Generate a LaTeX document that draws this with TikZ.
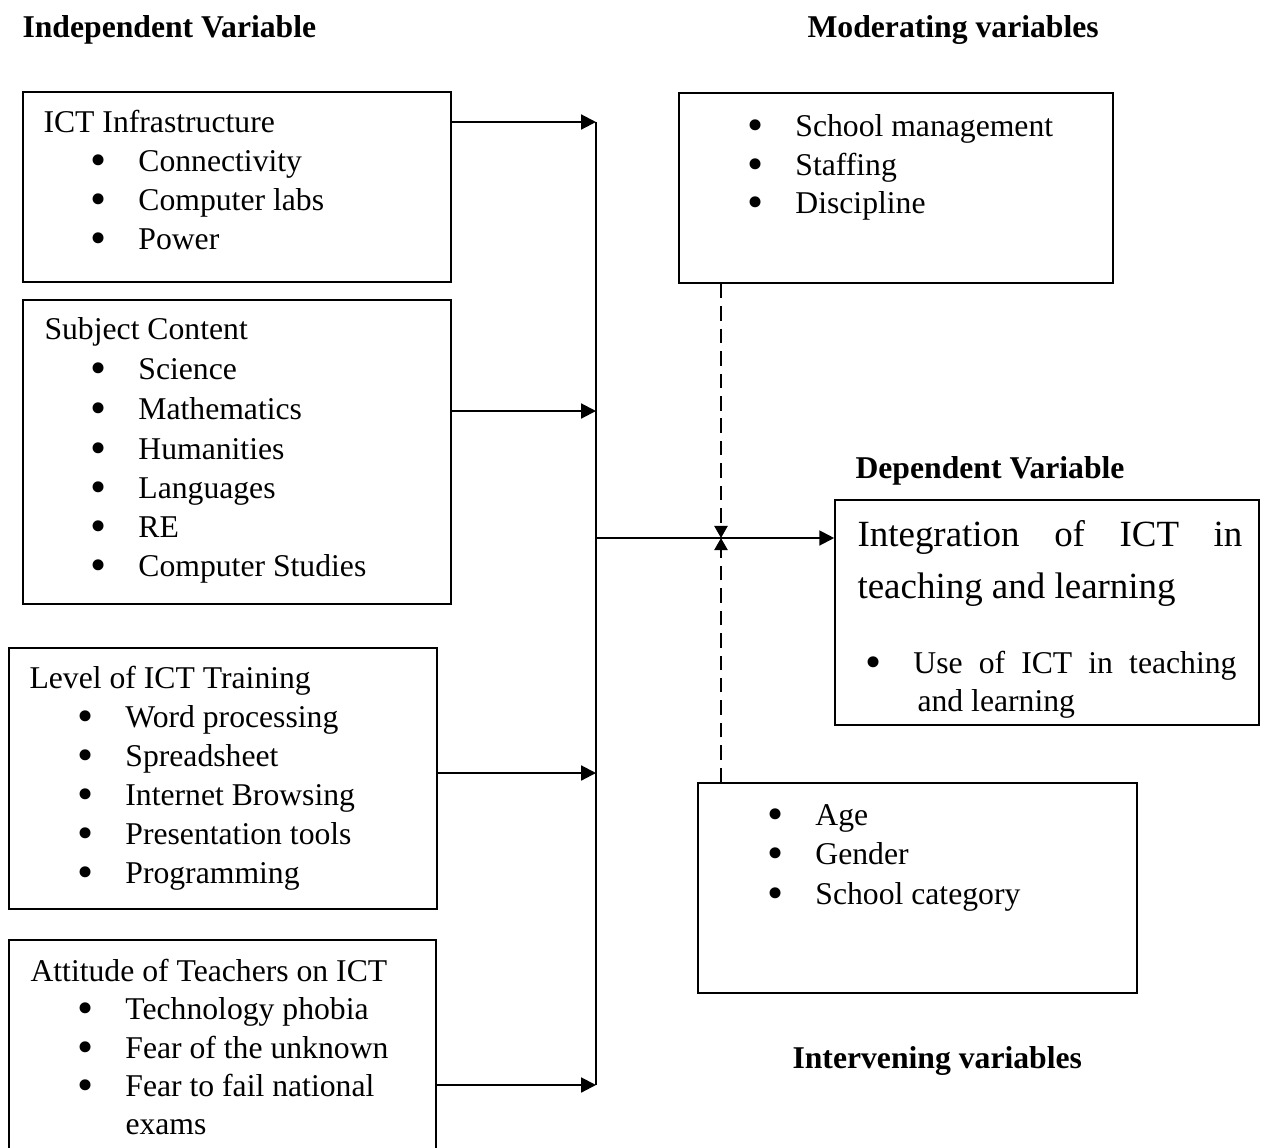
\documentclass[tikz,border=0pt,12pt]{standalone}
\usepackage{fontspec}
\setmainfont{Liberation Serif}
\usepackage{graphicx}
\usepackage{tikz}
\usetikzlibrary{arrows.meta}
\usetikzlibrary{fit}
\newcommand{\itembul}{\makebox[17pt][l]{\hspace{-1.1pt}\smash{\raisebox{-1.4pt}{\scalebox{1.45}{\textbullet}}}}}

\begin{document}
\begin{tikzpicture}[x=0.3788pt, y=-0.3788pt]
        \tikzset{box/.style = {draw, line width=0.6pt, inner sep=0pt}}
        \tikzset{head/.style = {anchor=base west, inner sep=0pt, yshift=-0.75pt, font=\bfseries}}
        \tikzset{entry/.style = {anchor=base west, inner sep=0pt, yshift=-0.75pt}}
        \tikzset{edge/.style = {->, > = {Triangle[length=5.6pt, width=5.6pt]}, line width=0.8pt}}
        \tikzset{dashedge/.style = {edge, > = {Triangle[length=4.6pt, width=5pt]}, dash pattern=on 5.5pt off 3pt}}
        \useasboundingbox (0,0) rectangle (1267,1148);

        % headings
        \node[head] (indep) at (22,36) {Independent Variable};
        \node[head] (modhead) at (807,36) {Moderating variables};
        \node[head] (dephead) at (855,477) {Dependent Variable};
        \node[head] (inthead) at (792,1067) {Intervening variables};

        % boxes
        \node[box, fit={(23,92) (451,282)}] (infra) {};
        \node[box, fit={(23,300) (451,604)}] (subject) {};
        \node[box, fit={(9,648) (437,909)}] (training) {};
        \node[box, fit={(9,940) (436,1170)}] (attitude) {};
        \node[box, fit={(679,93) (1113,283)}] (moder) {};
        \node[box, fit={(835,500) (1259,725)}] (dep) {};
        \node[box, fit={(698,783) (1137,993)}] (interv) {};

        % ICT infrastructure
        \node[entry] (infra0) at (43,131) {ICT Infrastructure};
        \node[entry] (infra1) at (93,170) {\itembul Connectivity};
        \node[entry] (infra2) at (93,209) {\itembul Computer labs};
        \node[entry] (infra3) at (93,248) {\itembul Power};

        % subject content
        \node[entry] (subject0) at (44,338) {Subject Content};
        \node[entry] (subject1) at (93,378) {\itembul Science};
        \node[entry] (subject2) at (93,418) {\itembul Mathematics};
        \node[entry] (subject3) at (93,458) {\itembul Humanities};
        \node[entry] (subject4) at (93,497) {\itembul Languages};
        \node[entry] (subject5) at (93,536) {\itembul RE};
        \node[entry] (subject6) at (93,575) {\itembul Computer Studies};

        % level of training
        \node[entry] (training0) at (29,687) {Level of ICT Training};
        \node[entry] (training1) at (80,726) {\itembul Word processing};
        \node[entry] (training2) at (80,765) {\itembul Spreadsheet};
        \node[entry] (training3) at (80,804) {\itembul Internet Browsing};
        \node[entry] (training4) at (80,843) {\itembul Presentation tools};
        \node[entry] (training5) at (80,882) {\itembul Programming};

        % attitude
        \node[entry] (attitude0) at (30,980) {Attitude of Teachers on ICT};
        \node[entry] (attitude1) at (80,1018) {\itembul Technology phobia};
        \node[entry] (attitude2) at (80,1057) {\itembul Fear of the unknown};
        \node[entry] (attitude3) at (80,1095) {\itembul Fear to fail national};
        \node[entry] (attitude4) at (125,1133) {exams};

        % moderating
        \node[entry] (moder1) at (750,135) {\itembul School management};
        \node[entry] (moder2) at (750,174) {\itembul Staffing};
        \node[entry] (moder3) at (750,212) {\itembul Discipline};

        % dependent
        \node[entry, font=\fontsize{14}{17}\selectfont] (dep0) at (857,545) {\makebox[145.8pt][s]{Integration of ICT in}};
        \node[entry, font=\fontsize{14}{17}\selectfont] (dep1) at (857,597) {teaching and learning};
        \node[entry] (dep2) at (868,672) {\itembul\makebox[122.4pt][s]{Use of ICT in teaching}};
        \node[entry] (dep3) at (917,710) {and learning};

        % intervening
        \node[entry] (interv1) at (770,824) {\itembul Age};
        \node[entry] (interv2) at (770,863) {\itembul Gender};
        \node[entry] (interv3) at (770,903) {\itembul School category};

        % edges
        \coordinate (bus1) at (596,122);
        \coordinate (bus2) at (596,411);
        \coordinate (bus3) at (596,773);
        \coordinate (bus4) at (596,1085);
        \coordinate (busmid) at (596,538);
        \coordinate (meet) at (721,538);
        \draw[line width=0.8pt] (bus1) -- (bus4);
        \draw[edge] (infra.east |- bus1) -- (bus1);
        \draw[edge] (subject.east |- bus2) -- (bus2);
        \draw[edge] (training.east |- bus3) -- (bus3);
        \draw[edge] (attitude.east |- bus4) -- (bus4);
        \draw[edge] (busmid) -- (dep.west |- busmid);
        \draw[dashedge] (moder.south -| meet) -- (meet);
        \draw[dashedge] (interv.north -| meet) -- (meet);
\end{tikzpicture}
\end{document}
